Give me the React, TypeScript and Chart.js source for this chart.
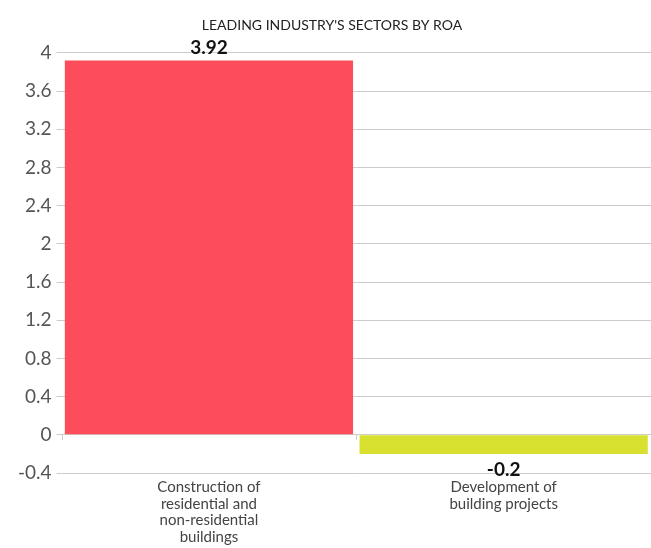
import React, { useEffect, useRef } from "react";
import { Chart, registerables } from "chart.js";

Chart.register(...registerables);

const titleText = "LEADING INDUSTRY'S SECTORS BY ROA";
const categories: string[][] = [
  ["Construction of", "residential and", "non-residential", "buildings"],
  ["Development of", "building projects"],
];
const roaValues = [3.92, -0.2];
const barColors = ["#FD4D5B", "#D8E030"];
const yMin = -0.4;
const yMax = 4;
const yStep = 0.4;

const FONT = "Lato, 'Open Sans', sans-serif";

const valueLabelPlugin = {
  id: "valueLabels",
  afterDatasetsDraw(chart: any) {
    const { ctx } = chart;
    const meta = chart.getDatasetMeta(0);
    ctx.save();
    ctx.font = `bold 19px ${FONT}`;
    ctx.fillStyle = "#111";
    ctx.textAlign = "center";
    meta.data.forEach((bar: any, i: number) => {
      const v = roaValues[i];
      const txt = String(v);
      if (v >= 0) {
        ctx.textBaseline = "bottom";
        ctx.fillText(txt, bar.x, bar.y - 3);
      } else {
        ctx.textBaseline = "top";
        ctx.fillText(txt, bar.x, bar.y + 6);
      }
    });
    ctx.restore();
  },
};

const zeroTicksPlugin = {
  id: "zeroTicks",
  afterDraw(chart: any) {
    const { ctx } = chart;
    const xs = chart.scales.x;
    const ys = chart.scales.y;
    const y0 = ys.getPixelForValue(0);
    const step = xs.getPixelForValue(1) - xs.getPixelForValue(0);
    ctx.save();
    ctx.strokeStyle = "#cccccc";
    ctx.lineWidth = 1;
    for (let i = 0; i < categories.length; i++) {
      const left = xs.getPixelForValue(i) - step / 2;
      ctx.beginPath();
      ctx.moveTo(Math.round(left) + 0.5, y0);
      ctx.lineTo(Math.round(left) + 0.5, y0 + 5);
      ctx.stroke();
    }
    ctx.restore();
  },
};

export default function App() {
  const ref = useRef<HTMLCanvasElement | null>(null);
  useEffect(() => {
    document.body.style.margin = "0";
    if (!ref.current) return;
    const chart = new Chart(ref.current, {
      type: "bar",
      data: {
        labels: categories,
        datasets: [
          {
            data: roaValues,
            backgroundColor: barColors,
            borderWidth: 0,
            barPercentage: 0.978,
            categoryPercentage: 1,
          },
        ],
      },
      options: {
        animation: false,
        responsive: false,
        layout: { padding: { top: 17, left: 13, right: 0, bottom: -3 } },
        plugins: {
          legend: { display: false },
          tooltip: { enabled: false },
          title: {
            display: true,
            text: titleText,
            color: "#222",
            font: { family: FONT, size: 14, weight: "normal" },
            padding: { top: 0, bottom: 19 },
          },
        },
        scales: {
          x: {
            grid: { display: false, drawTicks: false, tickLength: 0 },
            border: { display: false },
            ticks: {
              color: "#444",
              font: { family: FONT, size: 15, lineHeight: 1.1 },
              maxRotation: 0,
              autoSkip: false,
              padding: 6,
            },
          },
          y: {
            min: yMin,
            max: yMax,
            grid: { color: "#cccccc", tickLength: 5, drawTicks: true },
            border: { display: false },
            ticks: {
              stepSize: yStep,
              color: "#555",
              font: { family: FONT, size: 19 },
              padding: 5,
              callback: (v: any) => String(Number(Number(v).toFixed(1))),
            },
          },
        },
      },
      plugins: [valueLabelPlugin, zeroTicksPlugin],
    });
    return () => chart.destroy();
  }, []);
  return (
    <div style={{ width: 651, height: 548 }}>
      <canvas ref={ref} width={651} height={548} />
    </div>
  );
}
